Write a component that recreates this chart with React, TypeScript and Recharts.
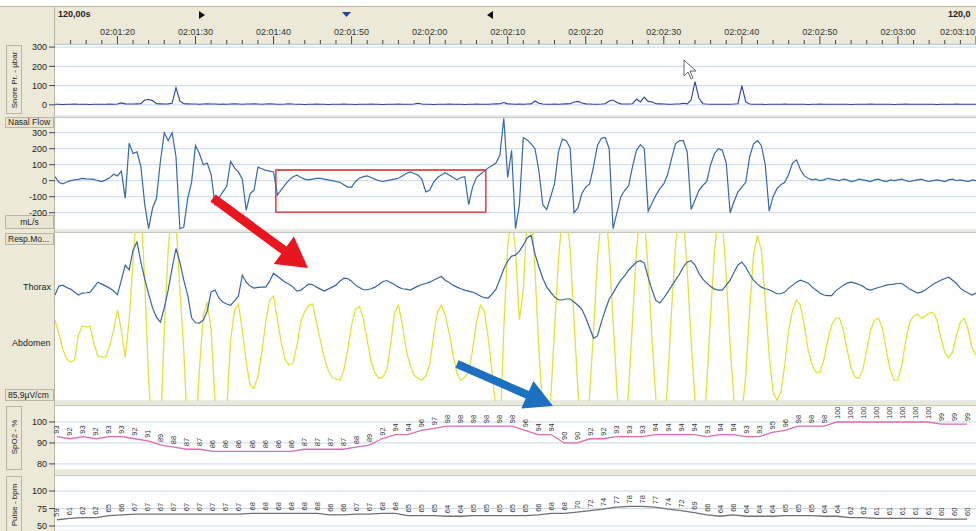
import React from 'react';
import {
  LineChart,
  Line,
  XAxis,
  YAxis,
  CartesianGrid,
  ReferenceArea,
  LabelList,
} from 'recharts';

// time is in seconds after 02:00:00
const T0 = 72;
const T1 = 190;
const SAMPLE_STEP = 0.5;
const LABEL_T0 = 72.25;
const LABEL_STEP = 1.666;

// Snore Pr. - µbar, one value per 0.5 s
const snorePressure = [
  3, 3, 2, 3, 3, 4, 3, 3, 3, 2,
  3, 3, 3, 3, 4, 3, 4, 10, 5, 4,
  4, 5, 6, 25, 28, 22, 6, 5, 4, 5,
  8, 90, 20, 6, 5, 4, 4, 3, 4, 5,
  4, 4, 3, 4, 3, 4, 5, 4, 3, 4,
  4, 5, 4, 3, 4, 5, 4, 3, 3, 4,
  6, 4, 3, 3, 2, 3, 3, 4, 3, 3,
  2, 3, 3, 3, 4, 3, 3, 2, 3, 3,
  3, 4, 3, 3, 2, 3, 3, 3, 4, 3,
  3, 3, 4, 8, 4, 3, 3, 2, 3, 3,
  3, 4, 3, 3, 3, 2, 3, 3, 4, 3,
  3, 3, 4, 5, 6, 12, 5, 4, 3, 4,
  3, 4, 5, 20, 8, 4, 3, 3, 4, 3,
  4, 5, 6, 15, 18, 10, 5, 4, 3, 3,
  4, 6, 20, 25, 12, 5, 4, 4, 6, 30,
  15, 40, 18, 15, 6, 5, 4, 3, 3, 4,
  4, 8, 5, 25, 120, 35, 6, 4, 3, 3,
  3, 3, 3, 3, 4, 6, 100, 15, 4, 3,
  3, 3, 2, 3, 3, 3, 3, 4, 3, 3,
  3, 3, 3, 2, 3, 3, 4, 3, 3, 3,
  3, 3, 3, 3, 2, 3, 3, 3, 3, 4,
  3, 3, 3, 3, 3, 2, 3, 3, 4, 3,
  3, 3, 3, 3, 3, 3, 2, 3, 3, 3,
  3, 4, 3, 3, 3, 3, 3,
];

// Nasal Flow - mL/s
const nasalFlow = [
  25, -10, -20, -8, 0, 5, 8, 15, 12, 10,
  8, 0, -5, 5, 18, 40, 30, 60, -110, 235,
  170, 180, 90, -150, -300, -170, -110, 120, 300, 250,
  300, 150, -300, -290, -110, -10, 220, 170, 100, 110,
  40, -150, -110, -70, -35, 120, 80, 55, 10, -185,
  -80, -60, 85, 75, 65, 60, 55, -90, -55, -25,
  5, 25, 35, 20, 10, 5, 10, 15, 15, 10,
  5, 0, -5, -10, -25, -40, -40, -5, 15, 25,
  30, 20, 10, 0, -5, 0, 5, 10, 15, 30,
  45, 55, 45, 35, 10, -70, -60, -10, 20, 35,
  50, 35, 20, 5, 20, 25, -150, -40, 20, 40,
  60, 80, 95, 110, 160, 390, 20, 190, -300, -150,
  270, 255, 230, 200, 60, -150, -180, -100, -20, 180,
  260, 250, 205, -200, -170, -80, -40, -20, 90, 220,
  265, 270, 200, -300, -200, -100, -60, -30, 90, 190,
  225, 200, -190, -140, -90, -50, -20, 40, 140, 230,
  250, 250, 180, -180, -120, -60, -30, -5, 100, 170,
  200, 190, 110, -200, -130, -70, -40, -10, 150, 230,
  250, 220, 100, -190, -100, -50, -25, -10, 40, 110,
  130, 70, 30, 15, 5, 10, 0, 5, 15, 10,
  5, 0, 10, 5, -5, 0, 10, 5, 0, -5,
  5, 10, 0, -5, 5, 0, 5, 10, 0, -5,
  0, 5, 10, 0, -5, 0, 5, 0, -5, 5,
  10, 0, 5, 0, -5, 5, 0,
];

// Resp. movement, thorax (relative units)
const thorax = [
  -2.1, 0.6, 0.9, 0.2, -0.3, -1.2, -2.1, -1.5, -1.4, -1.2,
  0.3, 1.8, 1.2, 0.6, 0, -0.9, -2, 2.4, 7, 5.5,
  11.5, 14, 7.9, 2.7, -1.8, -6, -8.8, -10.3, -6, -0.6,
  6, 12, 7.9, 2.4, -2.1, -9, -10.5, -10.6, -9.7, -7,
  -1.2, -0.6, -3, -4.2, -4.8, -5.2, -3.9, -2.4, 3.9, 1.8,
  0.6, 0, 0.2, 0.3, 0.3, 2.1, 4.5, 3.6, 2.7, 1.8,
  1.2, 0.3, -0.9, -0.6, 0.3, 1.2, 1.1, 0.3, -0.3, -0.9,
  -0.3, 0.3, 0.9, 2.1, 3, 2.9, 2.1, 0.9, 0.2, -0.5,
  -0.5, -0.2, 0.3, 1.1, 2, 2.3, 1.7, 1.1, 0.3, -0.2,
  -0.3, -0.6, 0, 0.6, 1.1, 1.4, 1.8, 2.4, 3, 3.5,
  2.4, 1.7, 0.9, 0.3, -0.2, -0.6, -0.9, -1.2, -1.8, -2.4,
  -2.9, -3, -1.8, -0.3, 2.7, 5.8, 8.2, 9.7, 10, 11.2,
  13, 15.2, 16, 10.3, 6.4, 3, 0.3, -1.2, -2.7, -3.5,
  -3.6, -3.3, -3.3, -4.2, -5.2, -6.4, -9, -12, -15.2, -14.5,
  -10.3, -6.7, -3.3, -1.5, 0.6, 2.4, 3.8, 5.5, 6.7, 7.9,
  8.3, 7.6, 3.3, -0.6, -3.8, -4.5, -3, -1.2, 0.6, 2.4,
  4.2, 6.4, 7.9, 8.3, 7, 4.5, 2.7, 1.5, 0.5, -0.3,
  -0.6, -0.6, 0.9, 2.4, 4.8, 7, 7.9, 6.4, 4.2, 2.4,
  1.2, 0.3, -0.2, -0.5, -1.1, -1.7, -1.7, -1.2, 0, 0.9,
  1.8, 2.4, 2, 1.5, 0.3, -0.6, -1.5, -2.1, -2.3, -2.3,
  -0.9, 0, 0.9, 1.5, 1.8, 1.5, 1.1, 0.6, -0.3, -0.6,
  -0.2, 0.2, 0.5, 0.9, 1.1, 1.2, 1.4, 1.4, 0.6, -0.3,
  -0.9, -1.5, -1.2, -0.6, 0.3, 1.2, 1.8, 2.4, 2.9, 3.3,
  2.4, 1.4, 0, -0.9, -1.5, -2.1, -1.5,
];

// Resp. movement, abdomen (relative units)
const abdomen = [
  10.3, 6.1, 1.5, -1.5, -2.4, -1.8, 5.8, 8.5, 8.2, 8.5,
  3.3, -0.6, -0.9, -0.9, 2.4, 7.3, 13.3, 7.3, -0.9, 10.3,
  27.9, 45, 45, 22, -7.9, -25, -25, -25, 7.3, 31.5,
  45, 40.6, 19.4, 1.2, -25, -25, -25, -4.8, 11.8, 15.8,
  7.3, -14, -25, -25, -17, 4.2, 13.3, 15.2, 7.3, -2.4,
  -9.4, -10.3, -6.7, 0.6, 9.7, 16.4, 17.6, 10.3, 3.3, -1.8,
  -3.3, -2.7, 2.7, 10, 13, 14.8, 15.2, 9.7, 4.2, -1.2,
  -4.8, -7, -7.6, -7.9, -4.8, 1.2, 8.8, 13.6, 14.5, 10.9,
  4.2, -2.4, -5.8, -7.3, -7, -4.8, 2.7, 12.4, 14.8, 9.1,
  1.2, -3.3, -6.4, -7.3, -7.9, -6.7, -3.3, 5.5, 12.7, 14.8,
  11.8, 6.4, -0.3, -5.8, -7.9, -7, -5.5, 1.2, 9.7, 14.8,
  13.3, 4.8, -5.5, -17, -25, 7.3, 33, 42, 31.5, 10.3,
  19.4, 42, 45, 25.5, 1.2, -17, -25, -14, 7.3, 28.5,
  42, 45, 31.5, 10.3, -10.9, -25, -25, -12.4, 7.3, 28.5,
  42, 45, 31.5, 10.3, -10.9, -25, -25, -10.9, 10.3, 31.5,
  43.6, 42, 25.5, 4.2, -14, -25, -25, -7.9, 13.3, 33,
  43.6, 42, 25.5, 4.2, -14, -25, -25, -9.4, 11.8, 31.5,
  42, 40.6, 24, 2.7, -14, -25, -18.5, -6.4, 13.3, 30,
  36, 31.5, 16.4, -0.3, -11.5, -14, -11.5, -3.3, 7.3, 13.3,
  16.4, 14.8, 8.8, 1.2, -3.3, -5.5, -5.5, -1.8, 4.2, 8.8,
  10.9, 10.9, 7.3, 1.2, -4.2, -7, -7.3, -4.8, 1.2, 7.3,
  10.3, 10.9, 7.9, 1.2, -4.8, -7.9, -7.9, -3.3, 4.2, 9.7,
  11.5, 12.1, 10.9, 11.5, 12.4, 12.7, 10.3, 4.8, 0.6, -1.2,
  0.6, 5.8, 9.7, 10.9, 7.3, 1.8, -0.3,
];

// SpO2 - % and Pulse - bpm readouts
const spo2Values = [
  93, 92, 93, 92, 93, 93, 92, 91, 89, 88,
  87, 87, 86, 86, 86, 86, 86, 86, 86, 87,
  87, 87, 87, 88, 89, 92, 94, 94, 96, 97,
  98, 98, 98, 98, 98, 98, 96, 94, 94, 90,
  90, 92, 92, 93, 93, 93, 94, 94, 94, 94,
  93, 94, 94, 93, 93, 95, 96, 98, 98, 98,
  100, 100, 100, 100, 100, 100, 100, 100, 99, 99, 99,
];
const pulseValues = [
  59, 61, 62, 62, 65, 66, 67, 67, 67, 67,
  67, 67, 67, 67, 67, 68, 68, 68, 68, 68,
  68, 66, 66, 67, 67, 68, 68, 65, 65, 65,
  64, 64, 65, 65, 65, 65, 65, 66, 68, 68,
  70, 72, 74, 77, 78, 78, 77, 74, 72, 69,
  66, 64, 66, 64, 64, 64, 65, 65, 65, 64,
  64, 62, 62, 61, 61, 61, 61, 61, 60, 60, 60,
];

const snoreTicks = [0, 100, 200, 300];
const flowTicks = [-200, -100, 0, 100, 200, 300];
const respGrid = [-30, -20, -10, 0, 10];
const spo2Ticks = [80, 90, 100];
const pulseTicks = [50, 75, 100];

const range = (a: number, b: number, s: number) => {
  const out: number[] = [];
  for (let v = a; v <= b + 1e-9; v += s) out.push(+v.toFixed(3));
  return out;
};
const timeTicks = range(74, 190, 2);

const waveRows = snorePressure.map((v, i) => ({
  t: T0 + i * SAMPLE_STEP,
  snore: v,
  flow: nasalFlow[i],
  thorax: thorax[i],
  abdomen: abdomen[i],
}));

const readoutRows = spo2Values.map((v, i) => ({
  t: LABEL_T0 + i * LABEL_STEP,
  spo2: v,
  pulse: pulseValues[i],
}));

const BEIGE = '#ECE9D8';
const EDGE = '#B9B59F';
const GRID = '#C9DAE9';
const W = 976;
const FONT = "'Liberation Sans', Arial, sans-serif";

const pad = (n: number) => (n < 10 ? '0' + n : '' + n);
const fmtTime = (t: number) => {
  const s = Math.round(t);
  return `02:${pad(Math.floor(s / 60))}:${pad(s % 60)}`;
};

const timeTick = (p: any) => {
  const t = p.payload.value;
  const major = Math.round(t) % 10 === 0;
  // the label at the right edge is kept inside the window
  const atEdge = p.x > W - 20;
  return (
    <g>
      <line x1={p.x} x2={p.x} y1={major ? 36 : 40} y2={44} stroke="#444" />
      {major && (
        <text
          x={atEdge ? W - 1 : p.x}
          y={35}
          textAnchor={atEdge ? 'end' : 'middle'}
          fontSize={9}
          fill="#333"
        >
          {fmtTime(t)}
        </text>
      )}
    </g>
  );
};

const noTick = () => <g />;

const vertLabel = (p: any) => {
  const { x, y, value } = p;
  if (x == null || y == null) return null;
  return (
    <text
      transform={`translate(${x},${y - 3}) rotate(-90)`}
      fontSize={7.5}
      fill="#333"
      textAnchor="start"
      dominantBaseline="central"
    >
      {value}
    </text>
  );
};

const tickStyle = { fontSize: 9, fill: '#222', fontFamily: FONT };

const arrowPoints = (
  x1: number, y1: number, x2: number, y2: number,
  shaft: number, headLen: number, headW: number
) => {
  const dx = x2 - x1;
  const dy = y2 - y1;
  const L = Math.hypot(dx, dy);
  const ux = dx / L, uy = dy / L;
  const nx = -uy, ny = ux;
  const bx = x2 - ux * headLen, by = y2 - uy * headLen;
  const pts = [
    [x1 + (nx * shaft) / 2, y1 + (ny * shaft) / 2],
    [bx + (nx * shaft) / 2, by + (ny * shaft) / 2],
    [bx + (nx * headW) / 2, by + (ny * headW) / 2],
    [x2, y2],
    [bx - (nx * headW) / 2, by - (ny * headW) / 2],
    [bx - (nx * shaft) / 2, by - (ny * shaft) / 2],
    [x1 - (nx * shaft) / 2, y1 - (ny * shaft) / 2],
  ];
  return pts.map((q) => q[0].toFixed(1) + ',' + q[1].toFixed(1)).join(' ');
};

const abs = (left: number, top: number, extra: React.CSSProperties = {}): React.CSSProperties => ({
  position: 'absolute',
  left,
  top,
  ...extra,
});

const Rot = ({ x, y, text }: { x: number; y: number; text: string }) => (
  <div
    style={abs(x, y, {
      transform: 'translate(-50%, -50%) rotate(-90deg)',
      whiteSpace: 'nowrap',
      fontSize: 8,
      color: '#222',
    })}
  >
    {text}
  </div>
);

const Box = ({ x, y, w, h, children, align = 'center' }: any) => (
  <div
    style={abs(x, y, {
      width: w,
      height: h,
      boxSizing: 'border-box',
      border: `1px solid ${EDGE}`,
      background: '#E9E5D2',
      fontSize: 8.5,
      lineHeight: `${h - 2}px`,
      textAlign: align,
      paddingLeft: align === 'left' ? 2 : 0,
      whiteSpace: 'nowrap',
      overflow: 'hidden',
      color: '#222',
    })}
  >
    {children}
  </div>
);

const plotBg = (top: number, height: number) => (
  <div
    style={abs(55, top, {
      width: W - 55,
      height,
      background: '#fff',
      borderTop: `1px solid ${EDGE}`,
      boxSizing: 'border-box',
    })}
  />
);

export default function App() {
  return (
    <div
      style={{
        position: 'absolute',
        left: 0,
        top: 0,
        width: W,
        height: 531,
        overflow: 'hidden',
        background: BEIGE,
        fontFamily: FONT,
      }}
    >
      {/* header */}
      <div style={abs(0, 0, { width: W, height: 6, background: '#fff', borderBottom: `1px solid ${EDGE}` })} />
      <div style={abs(54, 7, { width: 1, height: 524, background: EDGE })} />
      <div style={abs(58, 9, { fontSize: 9, fontWeight: 'bold', color: '#222' })}>120,00s</div>
      <div style={abs(948, 9, { fontSize: 9, fontWeight: 'bold', color: '#222', whiteSpace: 'nowrap' })}>120,0</div>

      {plotBg(44, 72)}
      {plotBg(117, 113)}
      {plotBg(232, 169)}
      {plotBg(405, 65)}
      {plotBg(475, 56)}

      {/* left labels */}
      <div style={abs(6, 45, { width: 16, height: 69, border: `1px solid ${EDGE}`, boxSizing: 'border-box' })} />
      <Rot x={14} y={80} text="Snore Pr. - µbar" />
      <Box x={5} y={117} w={49} h={11} align="left">Nasal Flow</Box>
      <Box x={5} y={215} w={49} h={14}>mL/s</Box>
      <Box x={5} y={233} w={49} h={12} align="left">Resp.Mo...</Box>
      <div style={abs(23, 282, { fontSize: 9, color: '#222' })}>Thorax</div>
      <div style={abs(12, 338, { fontSize: 9, color: '#222' })}>Abdomen</div>
      <Box x={5} y={389} w={49} h={12} align="left">85,9µV/cm</Box>
      <div style={abs(6, 406, { width: 16, height: 64, border: `1px solid ${EDGE}`, boxSizing: 'border-box' })} />
      <Rot x={14} y={437} text="SpO2 - %" />
      <div style={abs(6, 476, { width: 16, height: 56, border: `1px solid ${EDGE}`, boxSizing: 'border-box' })} />
      <Rot x={14} y={505} text="Pulse - bpm" />

      {/* Snore + time axis */}
      <div style={abs(0, 0)}>
        <LineChart width={W} height={116} data={waveRows} margin={{ top: 24, right: 0, bottom: 0, left: 0 }}>
          <CartesianGrid yAxisId="v" vertical={false} stroke={GRID} />
          <XAxis
            dataKey="t"
            type="number"
            orientation="top"
            domain={[T0, T1]}
            ticks={timeTicks}
            interval={0}
            height={20}
            axisLine={false}
            tickLine={false}
            tick={timeTick}
            allowDataOverflow
          />
          <YAxis yAxisId="v" domain={[-58, 316]} ticks={snoreTicks} interval={0} width={55} tick={tickStyle} tickSize={6} tickMargin={2} axisLine={false} tickLine={{ stroke: '#444' }} allowDataOverflow />
          <YAxis yAxisId="m" domain={[-58, 316]} ticks={range(-40, 300, 20)} interval={0} width={0} tick={noTick} tickSize={3} axisLine={false} tickLine={{ stroke: '#777' }} allowDataOverflow />
          <Line yAxisId="v" dataKey="snore" stroke="#2F3FA5" strokeWidth={1.1} dot={false} isAnimationActive={false} />
        </LineChart>
      </div>

      {/* Nasal flow */}
      <div style={abs(0, 117)}>
        <LineChart width={W} height={113} data={waveRows} margin={{ top: 0, right: 0, bottom: 0, left: 0 }}>
          <CartesianGrid yAxisId="v" vertical={false} stroke={GRID} />
          <XAxis dataKey="t" type="number" domain={[T0, T1]} hide allowDataOverflow />
          <YAxis yAxisId="v" domain={[-308, 398]} ticks={flowTicks} interval={0} width={55} tick={tickStyle} tickSize={6} tickMargin={2} axisLine={false} tickLine={{ stroke: '#444' }} allowDataOverflow />
          <YAxis yAxisId="m" domain={[-308, 398]} ticks={range(-300, 380, 20)} interval={0} width={0} tick={noTick} tickSize={3} axisLine={false} tickLine={{ stroke: '#777' }} allowDataOverflow />
          <Line yAxisId="v" dataKey="flow" stroke="#3668A8" strokeWidth={1.2} dot={false} isAnimationActive={false} />
          <ReferenceArea yAxisId="v" x1={100.3} x2={127.2} y1={-196} y2={67} fill="none" fillOpacity={0} stroke="#E02020" strokeWidth={1.3} ifOverflow="visible" />
        </LineChart>
      </div>

      {/* Resp. movement */}
      <div style={abs(0, 232)}>
        <LineChart width={W} height={169} data={waveRows} margin={{ top: 0, right: 0, bottom: 0, left: 0 }}>
          <CartesianGrid yAxisId="th" vertical={false} stroke={GRID} />
          <XAxis dataKey="t" type="number" domain={[T0, T1]} hide allowDataOverflow />
          <YAxis yAxisId="th" domain={[-34.2, 17]} ticks={respGrid} interval={0} width={55} tick={false} axisLine={false} tickLine={false} allowDataOverflow />
          <YAxis yAxisId="ab" domain={[-14.2, 37]} hide allowDataOverflow />
          <Line yAxisId="ab" dataKey="abdomen" stroke="#E2E23A" strokeWidth={1.3} dot={false} isAnimationActive={false} />
          <Line yAxisId="th" dataKey="thorax" stroke="#3565A5" strokeWidth={1.2} dot={false} isAnimationActive={false} />
        </LineChart>
      </div>

      {/* SpO2 */}
      <div style={abs(0, 405)}>
        <LineChart width={W} height={65} data={readoutRows} margin={{ top: 0, right: 0, bottom: 0, left: 0 }}>
          <CartesianGrid yAxisId="v" vertical={false} stroke={GRID} />
          <XAxis dataKey="t" type="number" domain={[T0, T1]} hide allowDataOverflow />
          <YAxis yAxisId="v" domain={[77.1, 108.1]} ticks={spo2Ticks} interval={0} width={55} tick={tickStyle} tickSize={6} tickMargin={2} axisLine={false} tickLine={{ stroke: '#444' }} allowDataOverflow />
          <YAxis yAxisId="m" domain={[77.1, 108.1]} ticks={range(78, 106, 2)} interval={0} width={0} tick={noTick} tickSize={3} axisLine={false} tickLine={{ stroke: '#777' }} allowDataOverflow />
          <Line yAxisId="v" dataKey="spo2" stroke="#E06AB4" strokeWidth={1.3} dot={false} isAnimationActive={false}>
            <LabelList dataKey="spo2" content={vertLabel} />
          </Line>
        </LineChart>
      </div>

      {/* Pulse */}
      <div style={abs(0, 475)}>
        <LineChart width={W} height={56} data={readoutRows} margin={{ top: 0, right: 0, bottom: 0, left: 0 }}>
          <CartesianGrid yAxisId="v" vertical={false} stroke={GRID} />
          <XAxis dataKey="t" type="number" domain={[T0, T1]} hide allowDataOverflow />
          <YAxis yAxisId="v" domain={[42.9, 122.9]} ticks={pulseTicks} interval={0} width={55} tick={tickStyle} tickSize={6} tickMargin={2} axisLine={false} tickLine={{ stroke: '#444' }} allowDataOverflow />
          <YAxis yAxisId="m" domain={[42.9, 122.9]} ticks={range(45, 120, 5)} interval={0} width={0} tick={noTick} tickSize={3} axisLine={false} tickLine={{ stroke: '#777' }} allowDataOverflow />
          <Line yAxisId="v" dataKey="pulse" stroke="#707070" strokeWidth={1.3} dot={false} isAnimationActive={false}>
            <LabelList dataKey="pulse" content={vertLabel} />
          </Line>
        </LineChart>
      </div>

      {/* annotations */}
      <svg width={W} height={531} style={abs(0, 0, { pointerEvents: 'none' })}>
        <polygon points="199,11 199,19 205,15" fill="#111" />
        <polygon points="342,12 351,12 346.5,17" fill="#2A3FA0" />
        <polygon points="493,11 493,19 487,15" fill="#111" />
        <polygon points={arrowPoints(213, 198, 308, 268, 9, 30, 34)} fill="#E8161E" />
        <polygon points={arrowPoints(457, 364, 553, 406, 8, 28, 30)} fill="#1D6FC2" />
        <polygon
          points="684,60 684,76 688,72 691,79 693,78 690,71 696,71"
          fill="#fff"
          stroke="#666"
          strokeWidth={1}
        />
      </svg>
    </div>
  );
}
